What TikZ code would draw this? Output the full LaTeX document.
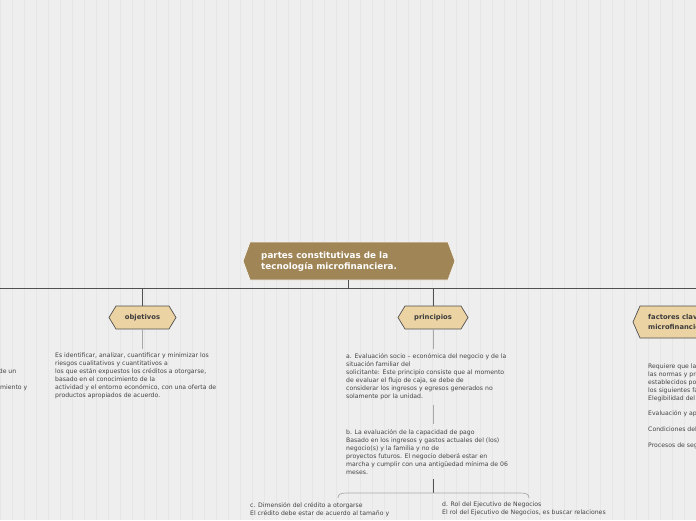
\documentclass[tikz,border=0pt]{standalone}
\usepackage{fontspec}
\setmainfont{DejaVu Sans}
\definecolor{bg}{HTML}{EEEEEE}
\definecolor{gridc}{HTML}{E6E6E6}
\definecolor{rootfill}{HTML}{A08557}
\definecolor{subfill}{HTML}{EBD3A3}
\definecolor{txt}{HTML}{444444}
\definecolor{darkline}{HTML}{505050}
\definecolor{lightline}{HTML}{A8A8A8}
\newcommand\hexshape[6]{\draw[#6] (#1,{(#3+#4)/2}) -- (#1+#5,#3) -- (#2-#5,#3) -- (#2,{(#3+#4)/2}) -- (#2-#5,#4) -- (#1+#5,#4) -- cycle;}
\begin{document}
\begin{tikzpicture}[x=1pt,y=-1pt,
  body/.style={anchor=north west,inner sep=0pt,align=left,text=txt,font=\fontsize{6.15}{8}\selectfont},
  roottext/.style={anchor=west,inner sep=0pt,align=left,text=white,font=\bfseries\fontsize{8.8}{11}\selectfont},
  subtext/.style={inner sep=0pt,align=left,text=txt!90!black,font=\bfseries\fontsize{6.8}{10}\selectfont},
  mainconn/.style={draw=darkline,line width=0.9pt},
  thinconn/.style={draw=lightline,line width=0.6pt},
  rootbox/.style={fill=rootfill,draw=white!90!rootfill,line width=0.8pt},
  subbox/.style={fill=subfill,draw=darkline,line width=0.7pt}]
\useasboundingbox (0,0) rectangle (696,520);
\clip (0,0) rectangle (696,520);
\fill[bg] (0,0) rectangle (696,520);
\draw[gridc,line width=0.4pt,step=12] (0,0) grid (696,520);

% connectors of the main level
\coordinate (busL) at (0,288);
\coordinate (busR) at (696,288);
\draw[mainconn] (busL) -- (busR);

% root
\hexshape{243}{455}{242}{280}{7}{rootbox}
\node[roottext] (root) at (261,261.5) {partes constitutivas de la\\tecnología microfinanciera.};
\draw[mainconn] (348,280) -- (348,288);

% objetivos
\hexshape{109}{176}{306}{329}{7}{subbox}
\node[subtext] (obj) at (142.5,317.5) {objetivos};
\draw[mainconn] (142,288) -- (142,306);

% principios
\hexshape{398}{468}{306}{329}{7}{subbox}
\node[subtext] (prin) at (433,317.5) {principios};
\draw[mainconn] (433,288) -- (433,306);

% factores
\hexshape{633}{780}{306}{338}{7}{subbox}
\node[subtext,anchor=west] (fac) at (648,322) {factores claves de la tecnología\\microfinanciera};

% objetivos text
\node[body] (objt) at (55,353) {Es identificar, analizar, cuantificar y minimizar los\\riesgos cualitativos y cuantitativos a\\los que están expuestos los créditos a otorgarse,\\basado en el conocimiento de la\\actividad y el entorno económico, con una oferta de\\productos apropiados de acuerdo.};
\draw[thinconn] (142,329) -- (142,349);

% left cut-off text
\node[body,anchor=north east] (leftt1) at (16.5,369) {de un};
\node[body,anchor=north east] (leftt2) at (27.5,385) {miento y};

% principios texts
\node[body] (pa) at (346,353) {a. Evaluación socio – económica del negocio y de la\\situación familiar del\\solicitante: Este principio consiste que al momento\\de evaluar el flujo de caja, se debe de\\considerar los ingresos y egresos generados no\\solamente por la unidad.};
\draw[thinconn] (433,329) -- (433,349);
\draw[thinconn] (433,405) -- (433,424);
\node[body] (pb) at (346,429) {b. La evaluación de la capacidad de pago\\Basado en los ingresos y gastos actuales del (los)\\negocio(s) y la familia y no de\\proyectos futuros. El negocio deberá estar en\\marcha y cumplir con una antigüedad mínima de 06\\meses.};
\draw[mainconn,line width=0.7pt] (433,479) -- (433,493);
\draw[thinconn,line width=0.7pt] (338,498) .. controls (338,494) and (341,493) .. (347,493) -- (520,493) .. controls (526,493) and (529,494) .. (529,498);

\node[body] (pc) at (250,502) {c. Dimensión del crédito a otorgarse\\El crédito debe estar de acuerdo al tamaño y};
\node[body] (pd) at (442,502) {d. Rol del Ejecutivo de Negocios\\El rol del Ejecutivo de Negocios, es buscar relaciones};

% factores texts
\node[body] (ft) at (648,363) {Requiere que la institución cumpla con\\las normas y procedimientos\\establecidos por la entidad y\\los siguientes factores:\\Elegibilidad del cliente\\[7pt]Evaluación y aprobación\\[8pt]Condiciones del crédito\\[8pt]Procesos de seguimiento};
\end{tikzpicture}
\end{document}
